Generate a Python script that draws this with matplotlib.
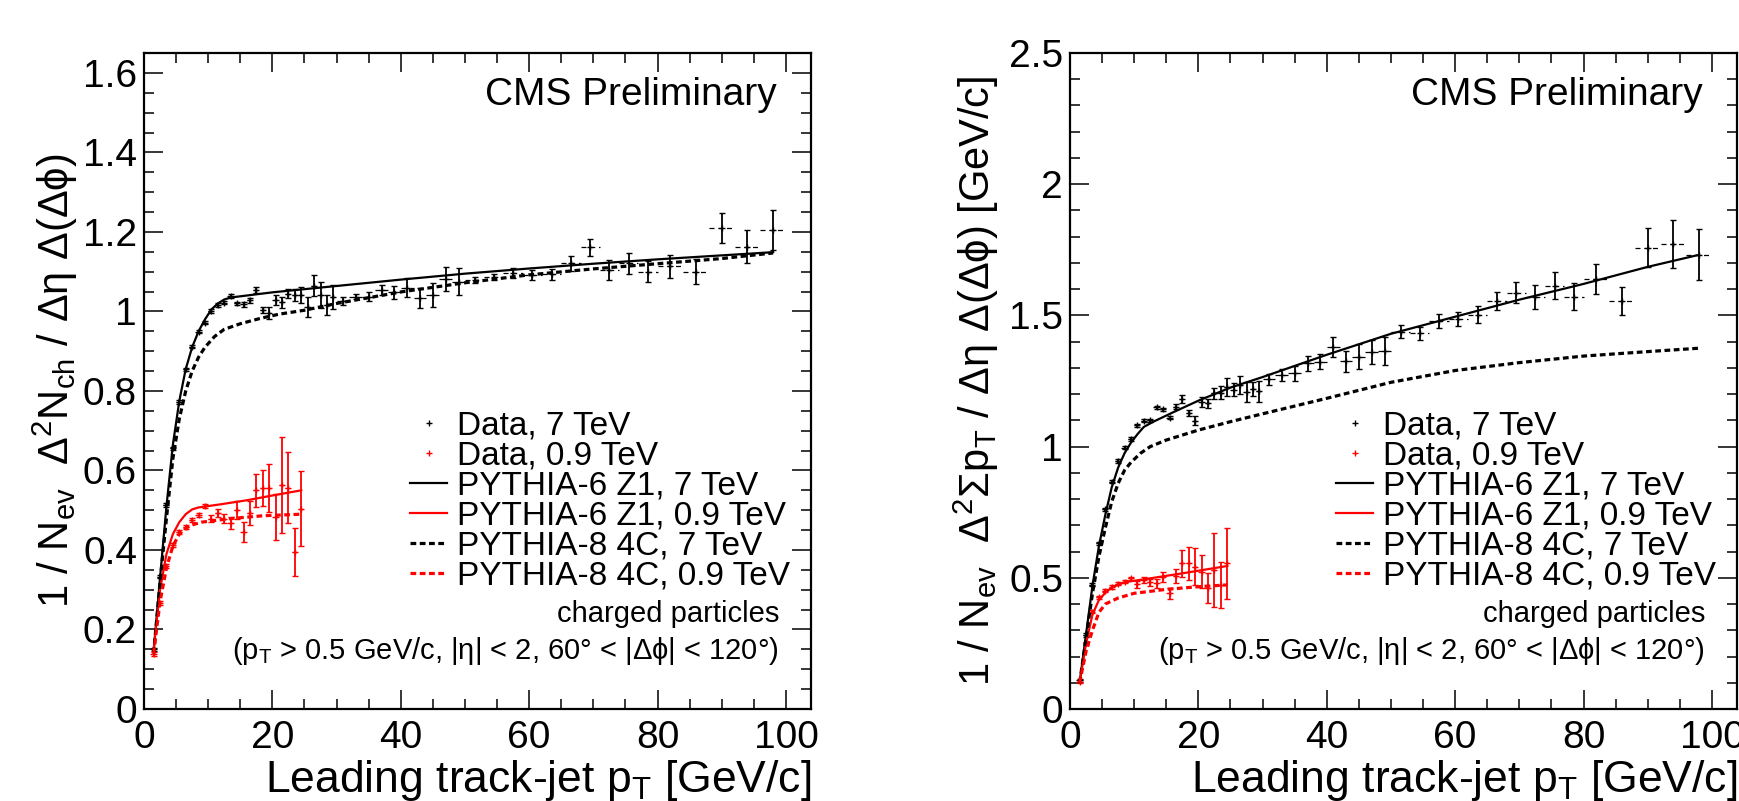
import matplotlib
matplotlib.use('Agg')
import matplotlib.pyplot as plt
from matplotlib.lines import Line2D
from matplotlib.ticker import MultipleLocator, FuncFormatter

plt.rcParams['font.family'] = ['Liberation Sans', 'DejaVu Sans']
plt.rcParams['mathtext.fontset'] = 'custom'
plt.rcParams['mathtext.rm'] = 'Liberation Sans'
plt.rcParams['mathtext.it'] = 'Liberation Sans:italic'
plt.rcParams['mathtext.bf'] = 'Liberation Sans:bold'

# leading track-jet pT bins (centres and half widths)
pt_7tev = [1.5, 2.5, 3.5, 4.5, 5.5, 6.5, 7.5, 8.5, 9.5, 10.5, 11.5, 12.5, 13.5, 14.5,
           15.5, 16.5, 17.5, 18.5, 19.5, 20.5, 21.5, 22.5, 23.5, 24.5, 25.5, 26.5, 27.5,
           28.5, 29.5, 31, 33, 35, 37, 39, 41, 43, 45, 47, 49, 51.5, 54.5, 57.5, 60.5,
           63.5, 66.5, 69.5, 72.5, 75.5, 78.5, 82, 86, 90, 94, 98]
pt_7tev_hw = [0.5] * 29 + [1.0] * 10 + [1.5] * 10 + [2.0] * 5
pt_09tev = [1.5, 2.5, 3.5, 4.5, 5.5, 6.5, 7.5, 8.5, 9.5, 10.5, 11.5, 12.5, 13.5, 14.5,
            15.5, 16.5, 17.5, 18.5, 19.5, 20.5, 21.5, 22.5, 23.5, 24.5]
pt_09tev_hw = [0.5] * 24

# left: charged particle density
nch_7tev = [0.15, 0.333, 0.513, 0.656, 0.772, 0.854, 0.911, 0.949, 0.972, 1.001, 1.016,
            1.022, 1.039, 1.020, 1.018, 1.028, 1.054, 1.003, 0.995, 1.029, 1.023, 1.045,
            1.041, 1.041, 1.012, 1.065, 1.041, 1.016, 1.037, 1.026, 1.037, 1.037, 1.054,
            1.048, 1.06, 1.033, 1.041, 1.082, 1.075, 1.079, 1.087, 1.096, 1.092, 1.093,
            1.121, 1.161, 1.104, 1.121, 1.100, 1.113, 1.100, 1.210, 1.163, 1.205]
nch_7tev_err = [0.004] * 14 + [0.006, 0.006, 0.007, 0.008, 0.015, 0.013, 0.014, 0.012,
                0.016, 0.02, 0.025, 0.026, 0.032, 0.025, 0.03, 0.011, 0.007, 0.011,
                0.013, 0.017, 0.023, 0.025, 0.03, 0.03, 0.034, 0.008, 0.008, 0.012,
                0.013, 0.014, 0.019, 0.022, 0.025, 0.027, 0.027, 0.028, 0.032, 0.037,
                0.042, 0.05]
nch_09tev = [0.139, 0.266, 0.359, 0.412, 0.446, 0.458, 0.475, 0.488, 0.510, 0.479, 0.492,
             0.479, 0.468, 0.500, 0.446, 0.492, 0.550, 0.555, 0.556, 0.483, 0.563, 0.557,
             0.395, 0.504]
nch_09tev_err = [0.005] * 9 + [0.008, 0.01, 0.012, 0.015, 0.022, 0.025, 0.03, 0.042,
                 0.045, 0.06, 0.057, 0.12, 0.09, 0.06, 0.095]

nch_p6_7_x = [1.5, 2.5, 3.5, 4.5, 5.5, 6.5, 7.5, 8.5, 9.5, 10.5, 11.5, 12.5, 13.5, 20, 30,
              40, 50, 60, 70, 80, 90, 98]
nch_p6_7 = [0.145, 0.33, 0.51, 0.665, 0.775, 0.855, 0.91, 0.95, 0.98, 1.005, 1.02, 1.03,
            1.035, 1.048, 1.064, 1.08, 1.095, 1.108, 1.12, 1.131, 1.141, 1.149]
nch_p8_7_x = [1.5, 2.5, 3.5, 4.5, 5.5, 6.5, 7.5, 8.5, 9.5, 11, 12.5, 15, 18, 21, 25, 30,
              40, 50, 60, 70, 80, 90, 98]
nch_p8_7 = [0.14, 0.32, 0.48, 0.63, 0.73, 0.80, 0.85, 0.885, 0.91, 0.937, 0.955, 0.969,
            0.982, 0.993, 1.003, 1.02, 1.049, 1.072, 1.092, 1.107, 1.12, 1.133, 1.147]
nch_p6_09_x = [1.5, 2.5, 3.5, 4.5, 5.5, 6.5, 7.5, 8.5, 12, 16, 20, 24.5]
nch_p6_09 = [0.15, 0.30, 0.39, 0.44, 0.47, 0.49, 0.502, 0.507, 0.515, 0.525, 0.537, 0.550]
nch_p8_09_x = [1.5, 2.5, 3.5, 4.5, 5.5, 6.5, 7.5, 9, 13.5, 18.5, 24.5]
nch_p8_09 = [0.14, 0.27, 0.355, 0.41, 0.44, 0.455, 0.463, 0.47, 0.479, 0.486, 0.490]

# right: scalar pT sum density
ptsum_7tev = [0.11, 0.282, 0.473, 0.631, 0.761, 0.866, 0.945, 0.996, 1.029, 1.082, 1.098,
              1.101, 1.150, 1.143, 1.110, 1.152, 1.180, 1.129, 1.099, 1.171, 1.165, 1.203,
              1.206, 1.226, 1.216, 1.235, 1.209, 1.22, 1.21, 1.256, 1.273, 1.279, 1.317,
              1.324, 1.381, 1.326, 1.343, 1.362, 1.364, 1.438, 1.432, 1.479, 1.485, 1.502,
              1.556, 1.587, 1.571, 1.613, 1.571, 1.638, 1.555, 1.758, 1.772, 1.731]
ptsum_7tev_err = [0.006] * 15 + [0.01, 0.015, 0.012, 0.016, 0.019, 0.017, 0.021, 0.024,
                  0.035, 0.025, 0.034, 0.038, 0.028, 0.041, 0.022, 0.022, 0.029, 0.027,
                  0.03, 0.038, 0.04, 0.048, 0.046, 0.054, 0.024, 0.024, 0.027, 0.027,
                  0.032, 0.035, 0.04, 0.046, 0.051, 0.052, 0.058, 0.055, 0.074, 0.091,
                  0.097]
ptsum_09tev = [0.104, 0.25, 0.37, 0.425, 0.45, 0.465, 0.478, 0.485, 0.498, 0.475, 0.492,
               0.483, 0.479, 0.504, 0.441, 0.507, 0.555, 0.555, 0.542, 0.523, 0.460, 0.530,
               0.473, 0.555]
ptsum_09tev_err = [0.006] * 9 + [0.012, 0.012, 0.014, 0.017, 0.019, 0.021, 0.025, 0.051,
                   0.063, 0.07, 0.063, 0.057, 0.141, 0.089, 0.135]

ptsum_p6_7_x = [1.5, 2.5, 3.5, 4.5, 5.5, 6.5, 7.5, 8.5, 9.5, 10.5, 11.5, 13, 16, 20, 25,
                30, 40, 50, 60, 70, 80, 90, 98]
ptsum_p6_7 = [0.10, 0.285, 0.47, 0.62, 0.74, 0.845, 0.92, 0.975, 1.015, 1.047, 1.075,
              1.095, 1.13, 1.175, 1.225, 1.265, 1.35, 1.43, 1.495, 1.56, 1.62, 1.685, 1.731]
ptsum_p8_7_x = [1.5, 2.5, 3.5, 4.5, 5.5, 6.5, 7.5, 8.5, 9.5, 11, 12.5, 15, 20, 25, 30, 40,
                50, 60, 70, 80, 90, 98]
ptsum_p8_7 = [0.10, 0.27, 0.44, 0.58, 0.69, 0.79, 0.86, 0.91, 0.94, 0.975, 1.0, 1.025,
              1.063, 1.095, 1.125, 1.184, 1.245, 1.29, 1.32, 1.345, 1.362, 1.375]
ptsum_p6_09_x = [1.5, 2.5, 3.5, 4.5, 5.5, 6.5, 8.5, 12.5, 17.5, 24.5]
ptsum_p6_09 = [0.10, 0.25, 0.36, 0.415, 0.443, 0.463, 0.483, 0.498, 0.517, 0.545]
ptsum_p8_09_x = [1.5, 2.5, 3.5, 4.5, 5.5, 7.5, 10, 15, 20, 24.5]
ptsum_p8_09 = [0.10, 0.22, 0.30, 0.368, 0.40, 0.423, 0.441, 0.456, 0.466, 0.473]

legend_labels = ['Data, 7 TeV', 'Data, 0.9 TeV', 'PYTHIA-6 Z1, 7 TeV',
                 'PYTHIA-6 Z1, 0.9 TeV', 'PYTHIA-8 4C, 7 TeV', 'PYTHIA-8 4C, 0.9 TeV']

xlabel = r'Leading track-jet p$_{\mathrm{T}}$ [GeV/c]'
ylabel_nch = r'1 / N$_{\mathrm{ev}}$  Δ$^{\mathrm{2}}$N$_{\mathrm{ch}}$ / Δη Δ(Δϕ)'
ylabel_ptsum = r'1 / N$_{\mathrm{ev}}$  Δ$^{\mathrm{2}}$Σp$_{\mathrm{T}}$ / Δη Δ(Δϕ) [GeV/c]'
cuts_text = r'(p$_{\mathrm{T}}$ > 0.5 GeV/c, |η| < 2, 60° < |Δϕ| < 120°)'

DOTS = (1.8, 1.1)


def draw_data(ax, x, hw, y, err, color):
    ax.errorbar(x, y, yerr=err, fmt='+', color=color, ms=5, mew=1.0,
                elinewidth=1.3, capsize=2.2, capthick=1.3, zorder=4)
    eb = ax.errorbar(x, y, xerr=hw, fmt='none', ecolor=color, elinewidth=0.9, zorder=3)
    eb[2][0].set_linestyle((0, (4, 3)))


def draw_panel(ax, d7, e7, d09, e09, models, ymax, ymajor, yminor, ylabel, ylab_x):
    p6_7x, p6_7, p8_7x, p8_7, p6_09x, p6_09, p8_09x, p8_09 = models
    ax.plot(p6_7x, p6_7, color='k', lw=1.6, zorder=5)
    ax.plot(p6_09x, p6_09, color='red', lw=1.6, zorder=5)
    ax.plot(p8_7x, p8_7, color='k', lw=2.3, dashes=DOTS, zorder=5)
    ax.plot(p8_09x, p8_09, color='red', lw=2.3, dashes=DOTS, zorder=5)

    draw_data(ax, pt_7tev, pt_7tev_hw, d7, e7, 'k')
    draw_data(ax, pt_09tev, pt_09tev_hw, d09, e09, 'red')

    ax.set_xlim(0, 103.9)
    ax.set_ylim(0, ymax)
    ax.xaxis.set_major_locator(MultipleLocator(20))
    ax.xaxis.set_minor_locator(MultipleLocator(5))
    ax.yaxis.set_major_locator(MultipleLocator(ymajor))
    ax.yaxis.set_minor_locator(MultipleLocator(yminor))
    fmt = FuncFormatter(lambda v, p: '%g' % round(v, 3))
    ax.xaxis.set_major_formatter(fmt)
    ax.yaxis.set_major_formatter(fmt)
    ax.tick_params(which='both', direction='in', top=True, right=True, width=1.1)
    ax.tick_params(which='major', length=14, labelsize=28)
    ax.tick_params(which='minor', length=7)
    ax.tick_params(axis='x', pad=8)
    ax.tick_params(axis='y', pad=5)
    for s in ax.spines.values():
        s.set_linewidth(1.6)

    ax.set_xlabel(xlabel, fontsize=32, ha='right', va='baseline')
    ax.xaxis.set_label_coords(1.0, -0.1265)
    ax.set_ylabel(ylabel, fontsize=30, va='center')
    ax.yaxis.set_label_coords(ylab_x, 0.5)

    ax.text(0.949, 0.921, 'CMS Preliminary', transform=ax.transAxes,
            ha='right', va='baseline', fontsize=28)

    handles = [Line2D([], [], ls='none', marker='+', color='k', ms=5, mew=1),
               Line2D([], [], ls='none', marker='+', color='red', ms=5, mew=1),
               Line2D([], [], color='k', lw=1.6),
               Line2D([], [], color='red', lw=1.6),
               Line2D([], [], color='k', lw=2.3, dashes=DOTS),
               Line2D([], [], color='red', lw=2.3, dashes=DOTS)]
    ax.legend(handles, legend_labels, loc='upper left', bbox_to_anchor=(0.399, 0.455),
              frameon=False, fontsize=24, handlelength=1.11, handletextpad=0.3,
              labelspacing=-0.028, borderpad=0, borderaxespad=0)
    ax.text(0.952, 0.133, 'charged particles', transform=ax.transAxes,
            ha='right', va='baseline', fontsize=21)
    ax.text(0.952, 0.076, cuts_text, transform=ax.transAxes,
            ha='right', va='baseline', fontsize=21)


fig = plt.figure(figsize=(17.39, 8.01), dpi=100)
ax1 = fig.add_axes([144 / 1739, 1 - 709 / 801, 667 / 1739, 656 / 801])
ax2 = fig.add_axes([1070 / 1739, 1 - 709 / 801, 667 / 1739, 656 / 801])

draw_panel(ax1, nch_7tev, nch_7tev_err, nch_09tev, nch_09tev_err,
           (nch_p6_7_x, nch_p6_7, nch_p8_7_x, nch_p8_7,
            nch_p6_09_x, nch_p6_09, nch_p8_09_x, nch_p8_09),
           1.65, 0.2, 0.05, ylabel_nch, -0.133)
draw_panel(ax2, ptsum_7tev, ptsum_7tev_err, ptsum_09tev, ptsum_09tev_err,
           (ptsum_p6_7_x, ptsum_p6_7, ptsum_p8_7_x, ptsum_p8_7,
            ptsum_p6_09_x, ptsum_p6_09, ptsum_p8_09_x, ptsum_p8_09),
           2.5, 0.5, 0.1, ylabel_ptsum, -0.141)

fig.savefig('out.png', dpi=100)
